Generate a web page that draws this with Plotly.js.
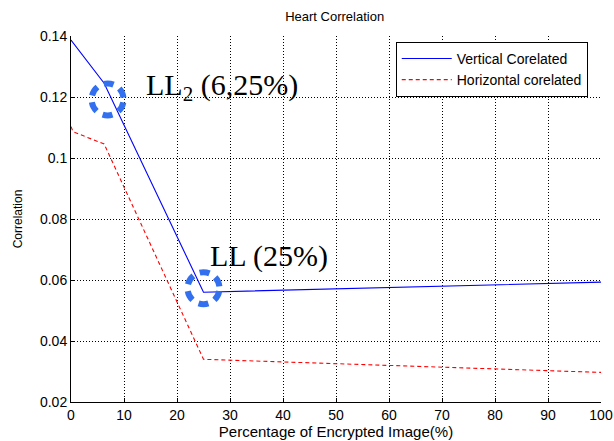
<!DOCTYPE html>
<html>
<head>
<meta charset="utf-8">
<script src="https://cdn.plot.ly/plotly-3.0.1.min.js"></script>
<style>html,body{margin:0;padding:0;background:#fff;}#chart{width:614px;height:441px;}</style>
</head>
<body>
<div id="chart"></div>
<script>
// Data
var percentages = [0, 0.390625, 1.5625, 6.25, 25, 100];
var verticalCorr = [0.1387, 0.1378, 0.1352, 0.1245, 0.0560, 0.0593];
var horizontalCorr = [0.1103, 0.1086, 0.1078, 0.1046, 0.0340, 0.0297];
var seriesNames = ["Vertical Corelated", "Horizontal corelated"];
var xTicks = [0, 10, 20, 30, 40, 50, 60, 70, 80, 90, 100];
var yTicks = [0.02, 0.04, 0.06, 0.08, 0.1, 0.12, 0.14];
var yTickLabels = ["0.02", "0.04", "0.06", "0.08", "0.1", "0.12", "0.14"];
var highlightX = [6.9, 25];
var highlightY = [0.1192, 0.0573];
var labelTexts = ["LL<sub>2</sub> (6,25%)", "LL (25%)"];
var labelX = [28.4, 37.3];
var labelY = [0.1233, 0.0679];

var sans = "Liberation Sans, Arial, Helvetica, sans-serif";
var serif = "Liberation Serif, Times New Roman, serif";

var traces = [
  {x: percentages, y: verticalCorr, name: seriesNames[0], type: "scatter", mode: "lines",
   line: {color: "#0000ff", width: 1.1}},
  {x: percentages, y: horizontalCorr, name: seriesNames[1], type: "scatter", mode: "lines",
   line: {color: "#ff0000", width: 1.1, dash: "4px,3px"}}
];

var shapes = highlightX.map(function(hx, i){
  return {type: "circle", xref: "x", yref: "y", xsizemode: "pixel", ysizemode: "pixel",
    xanchor: hx, yanchor: highlightY[i], x0: -16, x1: 16, y0: -16, y1: 16,
    line: {color: "#3370f0", width: 6, dash: "0px,3px,10px,4px"}, layer: "above"};
});

var annotations = labelTexts.map(function(t, i){
  return {x: labelX[i], y: labelY[i], xref: "x", yref: "y", text: t, showarrow: false,
    xanchor: "center", yanchor: "middle", font: {family: serif, size: 30, color: "#000"}};
});

var gridDash = "1px,2px";
var layout = {
  width: 614, height: 441,
  margin: {l: 71, r: 13, t: 36, b: 39},
  paper_bgcolor: "#fff", plot_bgcolor: "#fff",
  title: {text: "Heart Correlation", font: {family: sans, size: 13, color: "#000"},
          x: 0.545, xanchor: "center", y: 0.962, yanchor: "middle"},
  xaxis: {range: [0, 100], tickvals: xTicks, ticktext: xTicks.map(String),
    showgrid: true, gridcolor: "#000", gridwidth: 1, griddash: gridDash,
    showline: true, linecolor: "#000", linewidth: 1, mirror: false,
    ticks: "inside", ticklen: 4, tickcolor: "#000", zeroline: false,
    tickfont: {family: sans, size: 14, color: "#000"},
    title: {text: "Percentage of Encrypted Image(%)", font: {family: sans, size: 15, color: "#000"}, standoff: 3}},
  yaxis: {range: [0.02, 0.14], tickvals: yTicks, ticktext: yTickLabels,
    showgrid: true, gridcolor: "#000", gridwidth: 1, griddash: gridDash,
    showline: true, linecolor: "#000", linewidth: 1, mirror: false,
    ticks: "inside", ticklen: 4, tickcolor: "#000", zeroline: false,
    tickfont: {family: sans, size: 14, color: "#000"},
    title: {text: "Correlation", font: {family: sans, size: 12, color: "#000"}, standoff: 14}},
  showlegend: true,
  legend: {x: 0.975, y: 0.984, xanchor: "right", yanchor: "top",
    bgcolor: "#fff", bordercolor: "#000", borderwidth: 1,
    font: {family: sans, size: 14, color: "#000"}, tracegroupgap: 0, itemwidth: 50},
  shapes: shapes,
  annotations: annotations
};

Plotly.newPlot("chart", traces, layout, {displayModeBar: false, staticPlot: true});
</script>
</body>
</html>
